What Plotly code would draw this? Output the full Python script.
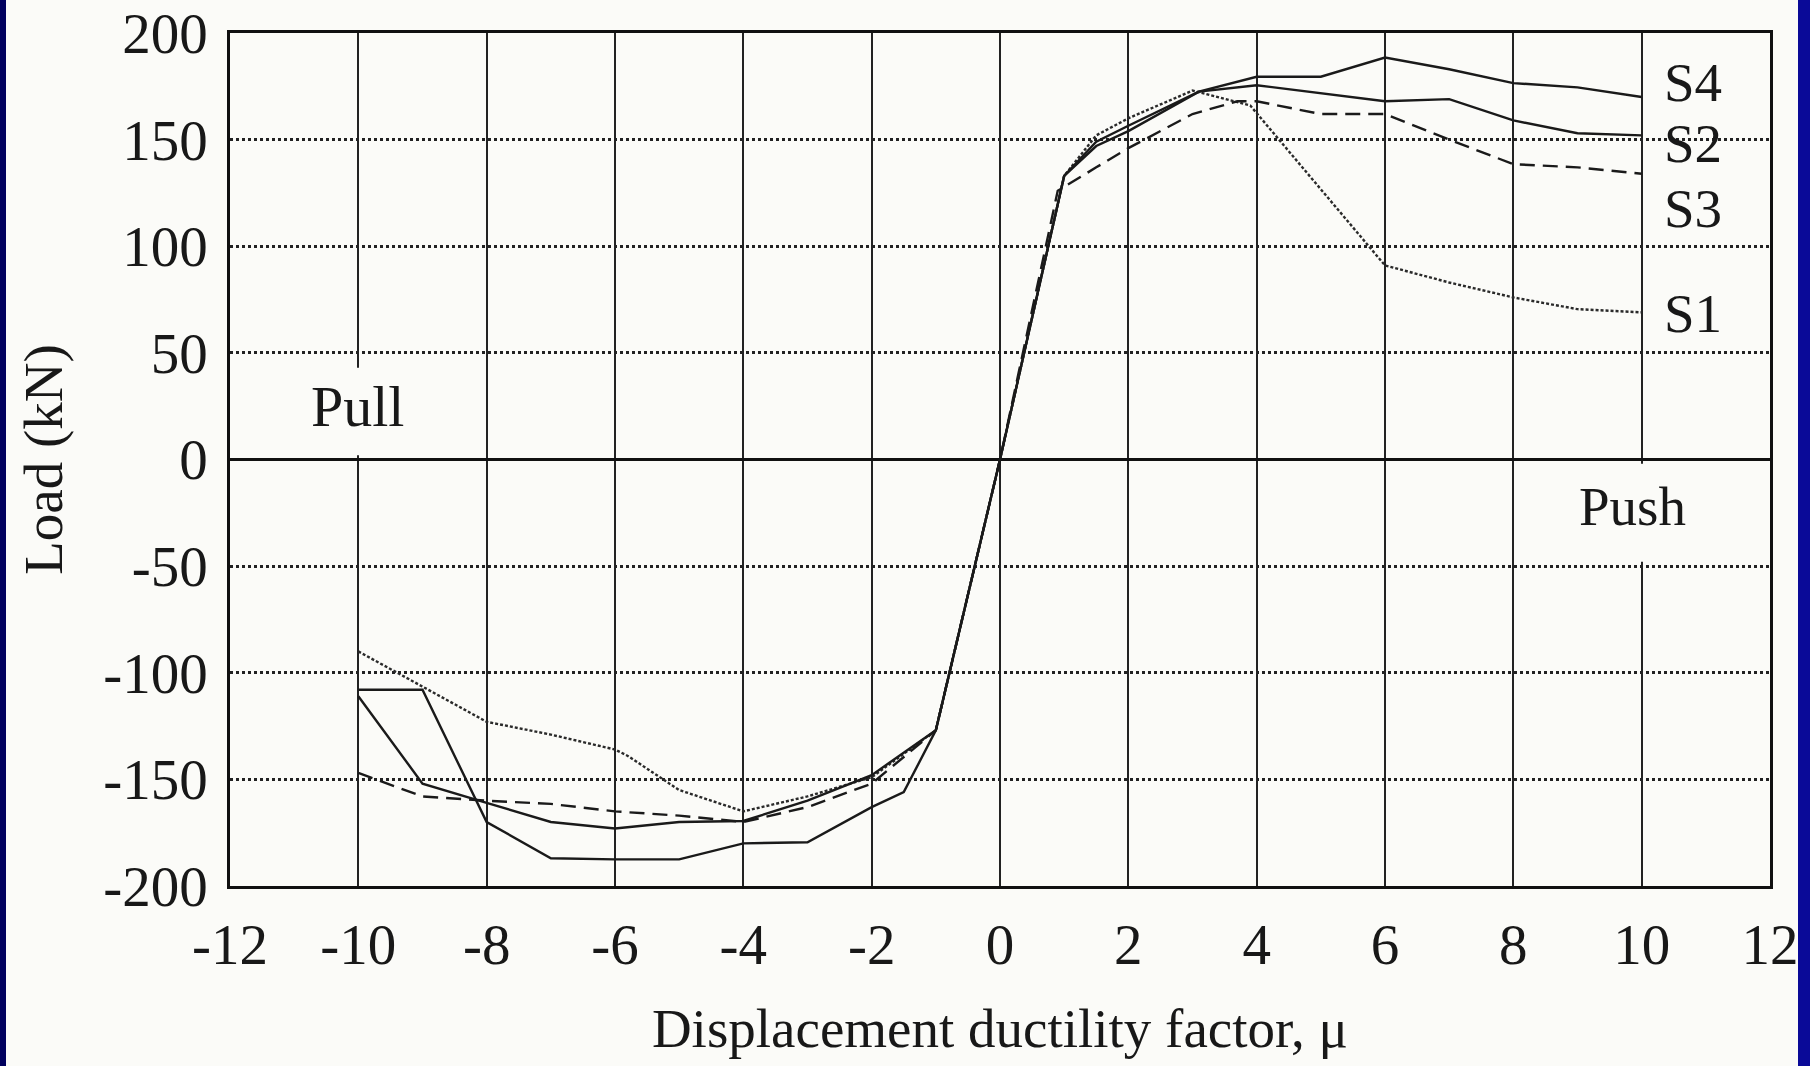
import plotly.graph_objects as go

# ---------------- data ----------------
x_ticks = [-12, -10, -8, -6, -4, -2, 0, 2, 4, 6, 8, 10, 12]
x_tick_labels = ["-12", "-10", "-8", "-6", "-4", "-2", "0", "2", "4", "6", "8", "10", "12"]
y_ticks = [-200, -150, -100, -50, 0, 50, 100, 150, 200]
y_tick_labels = ["-200", "-150", "-100", "-50", "0", "50", "100", "150", "200"]

series_names = ["S1", "S2", "S3", "S4"]

s1_x = [-10, -8, -7, -6, -5.8, -5, -4, -3, -2, -1, 0, 1, 1.5, 2, 3, 3.9, 6, 7, 8, 9, 10]
s1_y = [-90, -123, -129, -136, -139, -155, -165, -158, -149, -127, 0, 133, 152, 160, 173, 166, 91, 83, 76, 70.5, 69]

s2_x = [-10, -9, -8, -7, -6, -5, -4, -3, -2, -1, 0, 1, 1.5, 2, 3.1, 4, 6, 7, 8, 9, 10]
s2_y = [-111, -152, -161, -170, -173, -170, -169.5, -160, -148, -127, 0, 133, 147, 154, 172.5, 175.5, 168, 169, 159, 153, 152]

s3_x = [-10, -9, -8, -7, -6, -5, -4, -3, -2, -1, 0, 0.9, 1.5, 2, 3, 3.7, 4, 5, 6, 7, 8, 9, 10]
s3_y = [-147, -158, -160, -161.5, -165, -167, -170, -163, -152, -127, 0, 126, 137, 146, 162, 168, 168, 162, 162, 150, 138.5, 137, 134]

s4_x = [-10, -9, -8, -7, -6, -5, -4, -3, -2, -1.5, -1, 0, 1, 1.5, 2, 3.1, 4, 5, 6, 7, 8, 9, 10]
s4_y = [-108, -108, -170, -187, -187.5, -187.5, -180, -179.5, -163, -156, -127, 0, 133, 149, 156.5, 172.5, 179.5, 179.5, 188.5, 183, 176.5, 174.5, 170]

label_pull = "Pull"
label_push = "Push"
x_title = "Displacement ductility factor, \u03bc"
y_title = "Load (kN)"

# ---------------- styling ----------------
BG = "#fbfbf8"
INK = "#181818"
FONT = "Liberation Serif, Times New Roman, serif"
FS = 55
FS_TICK = 57

W, H = 1810, 1066
ML, MR, MT, MB = 230, 40, 33, 180
PW = W - ML - MR

fig = go.Figure()

styles = {
    "S1": dict(dash="3px,2px", width=2.4, color="#2a2a2a"),
    "S2": dict(dash="solid", width=2.4, color="#1a1a1a"),
    "S3": dict(dash="15px,8px", width=2.4, color="#1a1a1a"),
    "S4": dict(dash="solid", width=2.4, color="#1a1a1a"),
}
data = {"S1": (s1_x, s1_y), "S2": (s2_x, s2_y), "S3": (s3_x, s3_y), "S4": (s4_x, s4_y)}

for name in series_names:
    xs, ys = data[name]
    fig.add_trace(go.Scatter(x=xs, y=ys, mode="lines", name=name,
                             line=styles[name], showlegend=False,
                             hoverinfo="x+y+name"))

# series labels at the right end
label_pos = {"S4": 177, "S2": 148, "S3": 117.5, "S1": 68.5}
for name in series_names:
    fig.add_annotation(x=10.8, y=label_pos[name], text=name, showarrow=False,
                       font=dict(family=FONT, size=FS, color=INK),
                       xanchor="center", yanchor="middle")

# masks where the text boxes hide the grid in the original
fig.add_shape(type="rect", x0=-10.75, x1=-9.25, y0=2, y1=43, fillcolor=BG,
              line=dict(width=0), layer="above")
fig.add_shape(type="rect", x0=9.1, x1=10.6, y0=-2, y1=-48, fillcolor=BG,
              line=dict(width=0), layer="above")

fig.add_annotation(x=-10, y=25, text=label_pull, showarrow=False,
                   font=dict(family=FONT, size=58, color=INK))
fig.add_annotation(x=9.85, y=-22, text=label_push, showarrow=False,
                   font=dict(family=FONT, size=FS, color=INK))

# blue slide borders
fig.add_shape(type="rect", xref="paper", yref="paper",
              x0=(0 - 20 - ML) / PW, x1=(6 - ML) / PW,
              y0=-0.3, y1=1.1, fillcolor="#00005e", line=dict(width=0), layer="below")
fig.add_shape(type="rect", xref="paper", yref="paper",
              x0=(1798 - ML) / PW, x1=(W + 20 - ML) / PW,
              y0=-0.3, y1=1.1, fillcolor="#0a0a98", line=dict(width=0), layer="below")

fig.update_layout(
    width=W, height=H,
    margin=dict(l=ML, r=MR, t=MT, b=MB, autoexpand=False),
    paper_bgcolor=BG, plot_bgcolor=BG,
    font=dict(family=FONT, size=FS, color=INK),
    showlegend=False,
)

fig.update_xaxes(
    range=[-12, 12], tickmode="array", tickvals=x_ticks, ticktext=x_tick_labels,
    showgrid=True, gridcolor="#222222", gridwidth=1.6,
    zeroline=False, showline=True, linecolor="#111111", linewidth=2.6, mirror=True,
    ticks="", ticklabelstandoff=7, automargin=False,
    tickfont=dict(family=FONT, size=FS_TICK, color=INK),
    title=dict(text=x_title, font=dict(family=FONT, size=FS, color=INK), standoff=34),
)
fig.update_yaxes(
    range=[-200, 200], tickmode="array", tickvals=y_ticks, ticktext=y_tick_labels,
    showgrid=True, gridcolor="#222222", gridwidth=3, griddash="dot",
    zeroline=True, zerolinecolor="#111111", zerolinewidth=2.6,
    showline=True, linecolor="#111111", linewidth=2.6, mirror=True,
    ticks="", ticklabelstandoff=8, automargin=False,
    tickfont=dict(family=FONT, size=FS_TICK, color=INK),
    title=dict(text=y_title, font=dict(family=FONT, size=FS, color=INK), standoff=24),
)

fig.write_html("out.html",
               config={"displayModeBar": False},
               post_script="document.body.style.margin='0';"
                           "document.body.style.background='" + BG + "';")
